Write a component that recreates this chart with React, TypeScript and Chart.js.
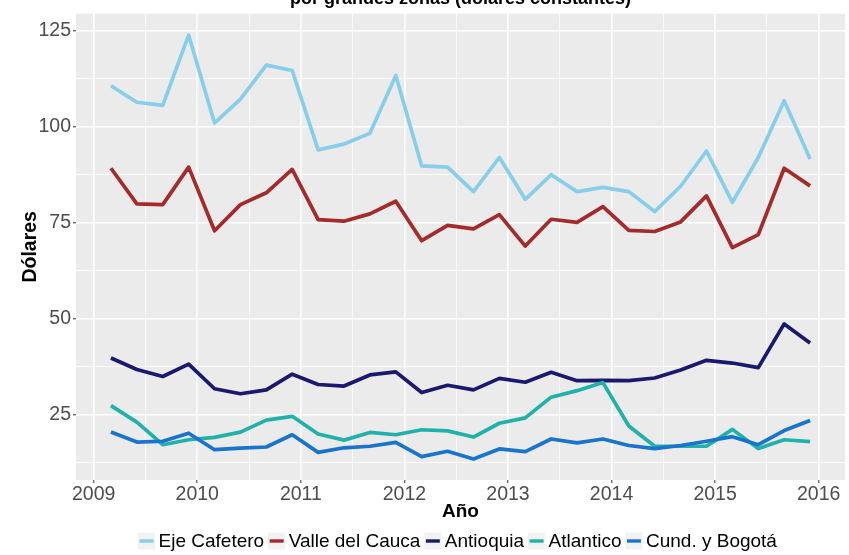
import React, { useEffect, useRef } from "react";
import { Chart, registerables } from "chart.js";
Chart.register(...registerables);

const fechas = [
  "2009-03", "2009-06", "2009-09", "2009-12",
  "2010-03", "2010-06", "2010-09", "2010-12",
  "2011-03", "2011-06", "2011-09", "2011-12",
  "2012-03", "2012-06", "2012-09", "2012-12",
  "2013-03", "2013-06", "2013-09", "2013-12",
  "2014-03", "2014-06", "2014-09", "2014-12",
  "2015-03", "2015-06", "2015-09", "2015-12",
];

const ejeCafetero = [110.7, 106.4, 105.6, 123.9, 101.0, 107.2, 116.1, 114.7, 94.0, 95.5, 98.3, 113.4, 89.8, 89.5, 83.1, 92.0, 81.1, 87.5, 83.1, 84.2, 83.1, 77.9, 84.5, 93.7, 80.3, 92.0, 106.8, 91.6];
const valleDelCauca = [89.2, 79.9, 79.7, 89.5, 72.9, 79.7, 82.8, 88.9, 75.8, 75.4, 77.3, 80.6, 70.3, 74.3, 73.4, 77.1, 68.9, 75.9, 75.1, 79.2, 73.0, 72.7, 75.2, 82.0, 68.5, 71.9, 89.2, 84.6];
const antioquia = [39.7, 36.7, 34.9, 38.1, 31.7, 30.4, 31.4, 35.5, 32.8, 32.4, 35.3, 36.1, 30.7, 32.6, 31.4, 34.4, 33.4, 36.0, 33.8, 33.9, 33.8, 34.5, 36.6, 39.1, 38.4, 37.2, 48.6, 43.6];
const atlantico = [27.3, 23.0, 17.1, 18.4, 19.0, 20.4, 23.5, 24.5, 19.9, 18.3, 20.3, 19.7, 21.0, 20.7, 19.1, 22.7, 24.1, 29.5, 31.2, 33.3, 22.0, 16.7, 16.7, 16.7, 21.1, 16.1, 18.4, 17.9];
const cundBogota = [20.4, 17.8, 18.0, 20.1, 15.8, 16.2, 16.5, 19.7, 15.1, 16.3, 16.7, 17.7, 14.0, 15.4, 13.4, 16.0, 15.3, 18.6, 17.6, 18.6, 16.9, 16.1, 16.9, 18.0, 19.2, 17.1, 20.8, 23.4];

const seriesNombres = ["Eje Cafetero", "Valle del Cauca", "Antioquia", "Atlantico", "Cund. y Bogotá"];
const seriesValores = [ejeCafetero, valleDelCauca, antioquia, atlantico, cundBogota];
const seriesColores = ["#87CEEB", "#A52A2A", "#191970", "#20B2AA", "#1874CD"];

const xTicks = [2009, 2009.5, 2010, 2010.5, 2011, 2011.5, 2012, 2012.5, 2013, 2013.5, 2014, 2014.5, 2015, 2015.5, 2016];
const yTicks = [12.5, 25, 37.5, 50, 62.5, 75, 87.5, 100, 112.5, 125];

const tituloTexto = "por grandes zonas (dólares constantes)";
const tituloX = "Año";
const tituloY = "Dólares";

const FONT = "'Liberation Sans', Arial, Helvetica, sans-serif";

const toYear = (f: string) => {
  const [y, m] = f.split("-").map(Number);
  return y + (m - 1) / 12;
};

const decor = {
  id: "decor",
  beforeDraw(chart: any) {
    const { ctx, chartArea: a } = chart;
    ctx.save();
    ctx.fillStyle = "#EBEBEB";
    ctx.fillRect(a.left, a.top, a.right - a.left, a.bottom - a.top);
    ctx.restore();
  },
  afterDraw(chart: any) {
    const { ctx, chartArea: a } = chart;
    ctx.save();
    ctx.font = `bold 18px ${FONT}`;
    ctx.fillStyle = "#000000";
    ctx.textAlign = "center";
    ctx.textBaseline = "alphabetic";
    ctx.fillText(tituloTexto, (a.left + a.right) / 2, 4);

    ctx.font = `19px ${FONT}`;
    ctx.textBaseline = "middle";
    ctx.textAlign = "left";
    const key = 17;
    const gapText = 3.5;
    const gapItem = 4;
    const widths = seriesNombres.map((n) => ctx.measureText(n).width);
    const total = widths.reduce((s, w) => s + key + gapText + w, 0) + gapItem * (seriesNombres.length - 1);
    let x = 457.5 - total / 2;
    const yc = 541;
    seriesNombres.forEach((n, i) => {
      ctx.fillStyle = "#F2F2F2";
      ctx.fillRect(x, yc - key / 2, key, key);
      ctx.strokeStyle = seriesColores[i];
      ctx.lineWidth = 3.4;
      ctx.beginPath();
      ctx.moveTo(x + 1.5, yc);
      ctx.lineTo(x + key - 1.5, yc);
      ctx.stroke();
      ctx.fillStyle = "#000000";
      ctx.fillText(n, x + key + gapText, yc + 1);
      x += key + gapText + widths[i] + gapItem;
    });
    ctx.restore();
  },
};

export default function App() {
  const ref = useRef<HTMLCanvasElement | null>(null);
  useEffect(() => {
    if (!ref.current) return;
    const datasets = seriesNombres.map((name, i) => ({
      label: name,
      data: fechas.map((f, j) => ({ x: toYear(f), y: seriesValores[i][j] })),
      borderColor: seriesColores[i],
      backgroundColor: seriesColores[i],
      borderWidth: 3.7,
      pointRadius: 0,
      tension: 0,
      fill: false,
      borderJoinStyle: "round" as const,
      order: seriesNombres.length - i,
    }));
    const isMajorX = (v: number) => Math.abs(v - Math.round(v)) < 1e-6;
    const isMajorY = (v: number) => Math.abs(v / 25 - Math.round(v / 25)) < 1e-6;
    const chart = new Chart(ref.current, {
      type: "line",
      data: { datasets },
      plugins: [decor],
      options: {
        animation: false,
        responsive: false,
        devicePixelRatio: 1,
        layout: { padding: { top: 7, right: 4, bottom: 30, left: 0 } },
        plugins: { legend: { display: false }, tooltip: { enabled: false }, title: { display: false } },
        scales: {
          x: {
            type: "linear",
            min: 2008.829,
            max: 2016.254,
            afterBuildTicks: (s: any) => { s.ticks = xTicks.map((v) => ({ value: v })); },
            afterFit: (s: any) => { s.height = 45; },
            border: { display: false },
            grid: {
              color: "#FFFFFF",
              lineWidth: (c: any) => (isMajorX(c.tick.value) ? 1.6 : 0.8),
              tickColor: (c: any) => (isMajorX(c.tick.value) ? "#333333" : "rgba(0,0,0,0)"),
              tickWidth: 1,
              tickLength: 3,
            },
            ticks: {
              autoSkip: false,
              maxRotation: 0,
              padding: 0,
              color: "#4D4D4D",
              font: { family: FONT, size: 19.5 },
              callback: (v: any) => (isMajorX(Number(v)) ? String(Math.round(Number(v))) : ""),
            },
            title: {
              display: true,
              text: tituloX,
              color: "#000000",
              font: { family: FONT, size: 19, weight: "bold" },
              padding: { top: 0, bottom: 2 },
            },
          },
          y: {
            type: "linear",
            min: 7.9,
            max: 129.5,
            afterBuildTicks: (s: any) => { s.ticks = yTicks.map((v) => ({ value: v })); },
            afterFit: (s: any) => { s.width = 76; },
            border: { display: false },
            grid: {
              color: "#FFFFFF",
              lineWidth: (c: any) => (isMajorY(c.tick.value) ? 1.6 : 0.8),
              tickColor: (c: any) => (isMajorY(c.tick.value) ? "#333333" : "rgba(0,0,0,0)"),
              tickWidth: 1,
              tickLength: 3,
            },
            ticks: {
              autoSkip: false,
              padding: 2,
              color: "#4D4D4D",
              font: { family: FONT, size: 19.5 },
              callback: (v: any) => (isMajorY(Number(v)) ? String(Math.round(Number(v))) : ""),
            },
            title: {
              display: true,
              text: tituloY,
              color: "#000000",
              font: { family: FONT, size: 19.5, weight: "bold" },
              padding: { top: 19, bottom: 0 },
            },
          },
        },
      },
    } as any);
    return () => chart.destroy();
  }, []);
  return (
    <div style={{ position: "fixed", left: 0, top: 0, width: 849, height: 555, background: "#FFFFFF" }}>
      <canvas ref={ref} width={849} height={555} style={{ width: 849, height: 555, display: "block" }} />
    </div>
  );
}
